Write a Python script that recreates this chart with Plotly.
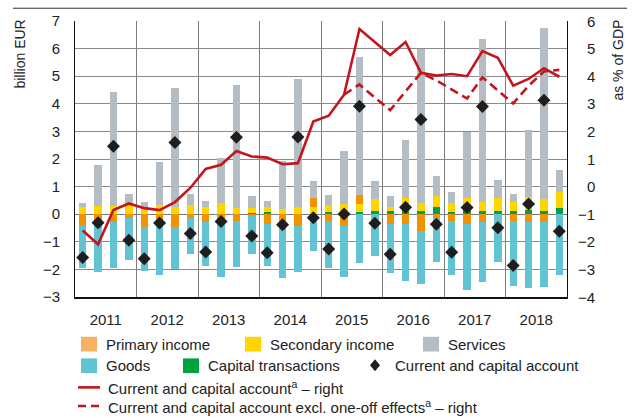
import plotly.graph_objects as go

# Quarterly balance of payments, 2011 Q1 - 2018 Q4 (billion EUR)
years = ["2011", "2012", "2013", "2014", "2015", "2016", "2017", "2018"]
quarter_index = list(range(32))

capital = [0, 0, 0, 0,  0, 0, 0, 0.02,  0, 0, 0, 0.03,  0.07, 0, 0, 0,
           0.07, 0, 0.07, 0.13,  0.10, 0.18, 0.10, 0.27,  0.07, 0.18, 0.10, 0.10,
           0.10, 0.16, 0.12, 0.24]
secondary = [0.27, 0.31, 0.31, 0.31,  0.24, 0.33, 0.27, 0.31,  0.27, 0.39, 0.24, 0.20,
             0.20, 0.19, 0.25, 0.27,  0.26, 0.36, 0.29, 0.42,  0.17, 0.42, 0.32, 0.40,
             0.35, 0.42, 0.33, 0.49,  0.35, 0.47, 0.44, 0.57]
primary = [-0.42, -0.40, -0.30, -0.15,  -0.45, -0.40, -0.45, -0.12,  -0.30, -0.30, -0.26, -0.07,
           -0.34, -0.35, -0.44, 0.30,  -0.24, -0.38, 0.33, 0,  -0.37, -0.36, -0.62, -0.14,
           -0.24, -0.37, -0.30, 0,  -0.25, -0.30, -0.30, 0]
services = [0.12, 1.48, 4.11, 0.41,  0.21, 1.57, 4.31, 0.42,  0.22, 1.63, 4.45, 0.43,
            0.22, 1.74, 4.65, 0.65,  0.36, 1.93, 5.00, 0.65,  0.40, 2.08, 5.55, 0.71,
            0.39, 2.37, 5.93, 0.66,  0.30, 2.43, 6.20, 0.79]
goods = [-1.54, -1.70, -1.66, -1.51,  -1.61, -1.82, -1.53, -1.33,  -1.56, -1.98, -1.64, -1.38,
         -1.55, -1.96, -1.66, -1.35,  -1.71, -1.90, -1.78, -1.53,  -1.75, -2.07, -1.92, -1.60,
         -1.95, -2.36, -2.16, -1.74,  -2.36, -2.39, -2.33, -2.22]
balance = [-1.57, -0.31, 2.46, -0.94,  -1.61, -0.32, 2.60, -0.70,  -1.37, -0.26, 2.79, -0.79,
           -1.40, -0.38, 2.80, -0.13,  -1.26, 0.01, 3.91, -0.33,  -1.45, 0.25, 3.43, -0.36,
           -1.38, 0.24, 3.90, -0.49,  -1.86, 0.37, 4.13, -0.62]

# Four-quarter balance, % of GDP (right axis)
balance_pct = [-1.59, -2.09, -0.85, -0.61,  -0.78, -0.85, -0.56, -0.05,  0.64, 0.79, 1.29, 1.09,
               1.05, 0.81, 0.85, 2.36,  2.57, 3.33, 5.71, 5.24,  4.77, 5.24, 4.12, 4.02,
               4.08, 4.00, 4.91, 4.67,  3.66, 3.90, 4.29, 3.98]
balance_excl_pct = [None] * 17 + [3.33, 3.70, 3.23,  2.77, 3.45, 4.12, 3.85,
                                  3.52, 3.19, 3.96, 3.50,  3.01, 3.65, 4.17, 4.23]

right_ticks = [6, 5, 4, 3, 2, 1, 0, -1, -2, -3, -4]

C_GOODS = "#62C3D2"
C_PRIMARY = "#F39200"
C_PRIMARY_KEY = "#F8B263"
C_SECONDARY = "#FFD500"
C_SERVICES = "#B4BDC4"
C_CAPITAL = "#00A140"
C_RED = "#C1161D"
C_DIAMOND = "#1E1E1E"
FONT = "Liberation Sans Narrow, Arial Narrow, Liberation Sans, Arial, sans-serif"

fig = go.Figure()
bar_w = 0.48
for vals, col in [(capital, C_CAPITAL), (secondary, C_SECONDARY), (primary, C_PRIMARY),
                  (services, C_SERVICES), (goods, C_GOODS)]:
    fig.add_trace(go.Bar(x=quarter_index, y=vals, width=bar_w, marker=dict(color=col, line=dict(width=0)),
                         showlegend=False, hoverinfo="skip"))

fig.add_trace(go.Scatter(x=quarter_index, y=balance_pct, yaxis="y2", mode="lines",
                         line=dict(color=C_RED, width=2.6), showlegend=False))
fig.add_trace(go.Scatter(x=quarter_index, y=balance_excl_pct, yaxis="y2", mode="lines",
                         line=dict(color=C_RED, width=2.6, dash="9px,5px"), showlegend=False))
fig.add_trace(go.Scatter(x=quarter_index, y=balance, mode="markers",
                         marker=dict(symbol="diamond", size=10, color=C_DIAMOND), showlegend=False))

L, R, T, B = 75, 73, 16, 121
W, H = 640, 418
PW, PH = W - L - R, H - T - B


def px(x):
    return (x - L) / PW


def py(y):
    return (H - B - y) / PH


fig.update_layout(
    width=W, height=H, barmode="relative", bargap=0,
    margin=dict(l=L, r=R, t=T, b=B, pad=0),
    paper_bgcolor="white", plot_bgcolor="white",
    font=dict(family=FONT, size=15, color="#222222"),
    xaxis=dict(range=[-0.5, 31.5], tickmode="array",
               tickvals=[4 * k + 1.5 for k in range(len(years))], ticktext=years,
               ticks="", ticklabelstandoff=8, showgrid=False, zeroline=False,
               showline=True, linecolor="#111111", linewidth=2,
               minor=dict(tickmode="array", tickvals=[4 * k + 3.5 for k in range(7)],
                          showgrid=True, gridcolor="#7d7d7d", gridwidth=1, ticks="")),
    yaxis=dict(range=[-3, 7], dtick=1, showgrid=True, gridcolor="#8a8a8a", gridwidth=1,
               zeroline=True, zerolinecolor="#7a7a7a", zerolinewidth=1,
               showline=True, linecolor="#111111", linewidth=1,
               ticks="", ticklabelstandoff=11),
    yaxis2=dict(range=[-4, 6], overlaying="y", side="right", showgrid=False, zeroline=False,
                showticklabels=False, showline=True, linecolor="#111111", linewidth=1),
)

ann = []
for v in right_ticks:
    ann.append(dict(x=px(597), xref="paper", y=v, yref="y2", text=("−" if v < 0 else "") + str(abs(v)),
                    showarrow=False, xanchor="right", yanchor="middle"))
ann.append(dict(x=px(20), xref="paper", y=py(13), yref="paper", text="billion EUR", textangle=-90,
                showarrow=False, xanchor="center", yanchor="top", font=dict(size=14)))
ann.append(dict(x=px(618), xref="paper", y=py(13), yref="paper", text="as % of GDP", textangle=-90,
                showarrow=False, xanchor="center", yanchor="top", font=dict(size=14)))

shapes = [dict(type="line", xref="paper", yref="paper", x0=px(13), x1=px(627), y0=py(3), y1=py(3),
               line=dict(color="#333333", width=1))]

# legend, drawn by hand
swatches = [(81, 345, C_PRIMARY_KEY, "Primary income"), (245, 345, C_SECONDARY, "Secondary income"),
            (423, 345, C_SERVICES, "Services"), (81, 367, C_GOODS, "Goods"),
            (183, 367, C_CAPITAL, "Capital transactions")]
for x0, yc, col, label in swatches:
    shapes.append(dict(type="rect", xref="paper", yref="paper", x0=px(x0), x1=px(x0 + 16),
                       y0=py(yc + 7.5), y1=py(yc - 7.5), fillcolor=col, line=dict(width=0)))
    ann.append(dict(x=px(x0 + 23), xref="paper", y=py(yc), yref="paper", text=label,
                    showarrow=False, xanchor="left", yanchor="middle"))

# diamond key
dx, dy, hw, hh = 375, 366.5, 5, 6
diamond_path = "M {} {} L {} {} L {} {} L {} {} Z".format(
    px(dx), py(dy - hh), px(dx + hw), py(dy), px(dx), py(dy + hh), px(dx - hw), py(dy))
shapes.append(dict(type="path", xref="paper", yref="paper", path=diamond_path,
                   fillcolor=C_DIAMOND, line=dict(width=0)))
ann.append(dict(x=px(393), xref="paper", y=py(367), yref="paper", text="Current and capital account",
                showarrow=False, xanchor="left", yanchor="middle"))

shapes.append(dict(type="line", xref="paper", yref="paper", x0=px(78), x1=px(100), y0=py(389), y1=py(389),
                   line=dict(color=C_RED, width=2.6)))
ann.append(dict(x=px(106), xref="paper", y=py(389), yref="paper",
                text="Current and capital account<sup>a</sup> – right",
                showarrow=False, xanchor="left", yanchor="middle"))
shapes.append(dict(type="line", xref="paper", yref="paper", x0=px(78), x1=px(100), y0=py(408), y1=py(408),
                   line=dict(color=C_RED, width=2.6, dash="8px,5px")))
ann.append(dict(x=px(106), xref="paper", y=py(408), yref="paper",
                text="Current and capital account excl. one-off effects<sup>a</sup> – right",
                showarrow=False, xanchor="left", yanchor="middle"))

fig.update_layout(annotations=ann, shapes=shapes)
fig.write_html("out.html")
